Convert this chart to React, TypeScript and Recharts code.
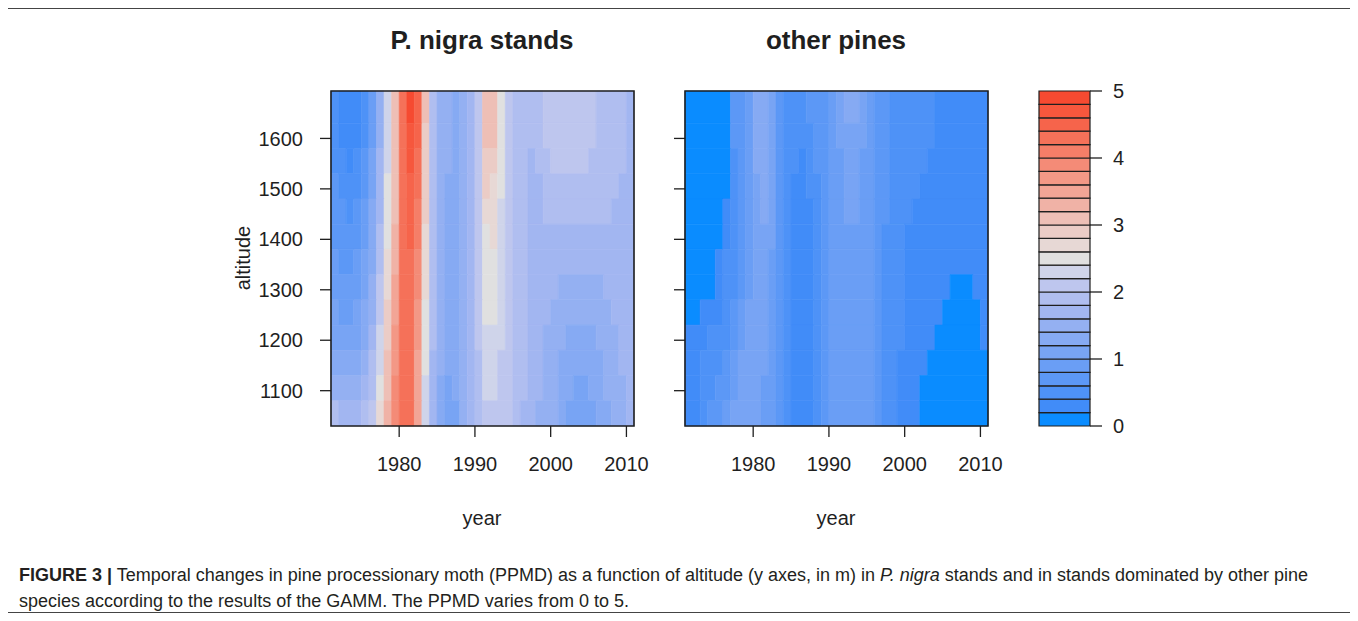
import React from 'react'
import { ScatterChart, Scatter, XAxis, YAxis, ReferenceArea } from 'recharts'

const FONT = '"Liberation Sans", Arial, Helvetica, sans-serif'
const INK = '#1f1f1f'

// column edges (one column per year) and altitude row edges
const YEAR_EDGES = [
  1971, 1972, 1973, 1974, 1975, 1976, 1977, 1978, 1979, 1980, 1981, 1982, 1983, 1984,
  1985, 1986, 1987, 1988, 1989, 1990, 1991, 1992, 1993, 1994, 1995, 1996, 1997, 1998,
  1999, 2000, 2001, 2002, 2003, 2004, 2005, 2006, 2007, 2008, 2009, 2010, 2011,
]
const ALT_EDGES = [1030, 1080, 1130, 1180, 1230, 1280, 1330, 1380, 1430, 1480, 1530, 1580, 1630, 1694]

const YEAR_TICKS = [1980, 1990, 2000, 2010]
const ALT_TICKS = [1100, 1200, 1300, 1400, 1500, 1600]
const PPMD_TICKS = [0, 1, 2, 3, 4, 5]

// 25 contour levels, 0 -> 5 in steps of 0.2
const BAND_COLORS = [
  '#0a8cff', '#418cf8', '#4e92f7', '#5c98f6', '#6a9ef5', '#78a4f4', '#86aaf3', '#94b0f2',
  '#a2b6f1', '#b0bef0', '#bec6ee', '#cfd4ea', '#e0e0e0', '#e7d8d5', '#ebccc6', '#eebfb6',
  '#f0b2a6', '#f2a596', '#f39886', '#f48b77', '#f57e68', '#f57159', '#f6644b', '#f6573d',
  '#f64a31',
]

// P. nigra stands, rows from top (1662 m) to bottom (1055 m), years 1971..2010
const NIGRA = [
  [0.4, 0.3, 0.3, 0.3, 0.4, 0.8, 1.4, 2.2, 3.0, 4.2, 4.8, 4.5, 3.0, 1.9, 1.5, 1.4, 1.35, 1.4, 1.6, 2.1, 3.1, 3.1, 2.5, 2.1, 1.9, 1.9, 1.9, 1.9, 2.0, 2.0, 2.0, 2.1, 2.1, 2.0, 2.0, 1.9, 1.9, 1.8, 1.8, 1.7],
  [0.4, 0.35, 0.3, 0.35, 0.5, 0.9, 1.5, 2.3, 3.0, 4.2, 4.7, 4.4, 2.9, 1.9, 1.5, 1.4, 1.35, 1.4, 1.6, 2.1, 3.0, 3.0, 2.5, 2.1, 1.9, 1.9, 1.8, 1.9, 2.0, 2.0, 2.0, 2.1, 2.1, 2.0, 2.0, 1.9, 1.9, 1.8, 1.8, 1.7],
  [0.5, 0.4, 0.35, 0.4, 0.6, 1.0, 1.6, 2.3, 3.0, 4.2, 4.6, 4.3, 2.9, 1.9, 1.5, 1.4, 1.35, 1.4, 1.6, 2.1, 2.9, 2.8, 2.4, 2.1, 1.9, 1.8, 1.7, 1.8, 1.9, 2.0, 2.0, 2.0, 2.0, 2.0, 1.9, 1.9, 1.8, 1.8, 1.8, 1.7],
  [0.6, 0.5, 0.5, 0.55, 0.7, 1.1, 1.7, 2.4, 3.1, 4.2, 4.5, 4.2, 2.8, 1.9, 1.5, 1.35, 1.3, 1.4, 1.6, 2.1, 2.8, 2.7, 2.4, 2.1, 1.9, 1.8, 1.7, 1.7, 1.8, 1.9, 1.9, 1.9, 1.9, 1.9, 1.9, 1.8, 1.8, 1.8, 1.7, 1.7],
  [0.7, 0.6, 0.55, 0.6, 0.8, 1.2, 1.7, 2.4, 3.1, 4.2, 4.4, 4.1, 2.8, 1.9, 1.5, 1.3, 1.3, 1.4, 1.6, 2.1, 2.6, 2.6, 2.3, 2.1, 1.9, 1.8, 1.7, 1.7, 1.8, 1.8, 1.8, 1.8, 1.8, 1.8, 1.8, 1.8, 1.8, 1.7, 1.7, 1.7],
  [0.75, 0.65, 0.6, 0.7, 0.9, 1.2, 1.8, 2.5, 3.2, 4.2, 4.4, 4.0, 2.7, 1.9, 1.5, 1.3, 1.3, 1.4, 1.6, 2.0, 2.5, 2.6, 2.3, 2.0, 1.9, 1.8, 1.7, 1.7, 1.7, 1.7, 1.7, 1.7, 1.7, 1.7, 1.7, 1.7, 1.7, 1.7, 1.7, 1.7],
  [0.85, 0.75, 0.7, 0.8, 1.0, 1.3, 1.9, 2.6, 3.3, 4.2, 4.3, 3.9, 2.6, 1.8, 1.5, 1.3, 1.3, 1.4, 1.6, 2.0, 2.5, 2.5, 2.3, 2.0, 1.9, 1.8, 1.7, 1.7, 1.7, 1.6, 1.6, 1.6, 1.6, 1.6, 1.6, 1.6, 1.6, 1.7, 1.7, 1.7],
  [0.95, 0.85, 0.8, 0.9, 1.1, 1.4, 2.0, 2.7, 3.4, 4.2, 4.3, 3.8, 2.6, 1.8, 1.5, 1.3, 1.3, 1.4, 1.6, 2.0, 2.4, 2.5, 2.3, 2.0, 1.9, 1.8, 1.7, 1.7, 1.6, 1.6, 1.5, 1.5, 1.5, 1.5, 1.5, 1.5, 1.6, 1.6, 1.7, 1.7],
  [1.0, 0.95, 0.9, 1.0, 1.2, 1.5, 2.1, 2.8, 3.5, 4.2, 4.2, 3.7, 2.5, 1.8, 1.5, 1.3, 1.3, 1.4, 1.6, 2.0, 2.4, 2.4, 2.2, 2.0, 1.9, 1.8, 1.7, 1.6, 1.6, 1.5, 1.5, 1.4, 1.4, 1.4, 1.4, 1.5, 1.5, 1.6, 1.6, 1.7],
  [1.15, 1.05, 1.0, 1.1, 1.3, 1.6, 2.2, 2.9, 3.6, 4.2, 4.2, 3.6, 2.4, 1.8, 1.4, 1.2, 1.3, 1.4, 1.6, 2.0, 2.3, 2.3, 2.2, 2.0, 1.9, 1.8, 1.7, 1.6, 1.5, 1.5, 1.4, 1.3, 1.3, 1.3, 1.3, 1.4, 1.5, 1.5, 1.6, 1.7],
  [1.3, 1.2, 1.2, 1.3, 1.45, 1.8, 2.3, 3.0, 3.7, 4.3, 4.2, 3.5, 2.4, 1.7, 1.4, 1.2, 1.2, 1.4, 1.6, 1.9, 2.2, 2.2, 2.1, 2.0, 1.9, 1.8, 1.7, 1.6, 1.5, 1.4, 1.3, 1.3, 1.2, 1.2, 1.3, 1.3, 1.4, 1.5, 1.6, 1.6],
  [1.5, 1.4, 1.4, 1.5, 1.6, 1.9, 2.5, 3.1, 3.8, 4.3, 4.2, 3.4, 2.3, 1.7, 1.3, 1.1, 1.2, 1.4, 1.6, 1.9, 2.2, 2.2, 2.1, 2.0, 1.9, 1.8, 1.7, 1.6, 1.5, 1.4, 1.3, 1.2, 1.1, 1.1, 1.2, 1.3, 1.4, 1.5, 1.5, 1.6],
  [1.8, 1.7, 1.7, 1.75, 1.85, 2.1, 2.6, 3.3, 3.9, 4.3, 4.2, 3.4, 2.3, 1.7, 1.3, 1.0, 1.1, 1.4, 1.6, 1.9, 2.1, 2.1, 2.1, 2.0, 1.8, 1.7, 1.6, 1.5, 1.5, 1.4, 1.3, 1.1, 1.0, 1.0, 1.1, 1.2, 1.3, 1.4, 1.5, 1.6],
]

// other pines, same layout
const OTHER = [
  [0.1, 0.1, 0.1, 0.1, 0.1, 0.1, 0.6, 0.7, 0.9, 1.2, 1.2, 1.0, 0.7, 0.5, 0.45, 0.5, 0.6, 0.6, 0.7, 0.8, 1.0, 1.2, 1.2, 1.0, 0.9, 0.7, 0.6, 0.5, 0.5, 0.45, 0.45, 0.45, 0.45, 0.3, 0.3, 0.3, 0.3, 0.3, 0.3, 0.3],
  [0.1, 0.1, 0.1, 0.1, 0.1, 0.1, 0.6, 0.7, 0.9, 1.2, 1.2, 1.0, 0.7, 0.5, 0.45, 0.45, 0.55, 0.6, 0.7, 0.8, 1.0, 1.1, 1.1, 1.0, 0.9, 0.7, 0.6, 0.5, 0.5, 0.45, 0.45, 0.45, 0.4, 0.3, 0.3, 0.3, 0.3, 0.3, 0.3, 0.3],
  [0.1, 0.1, 0.1, 0.1, 0.1, 0.1, 0.55, 0.7, 0.9, 1.2, 1.2, 1.0, 0.7, 0.5, 0.4, 0.3, 0.5, 0.6, 0.7, 0.8, 0.95, 1.0, 1.0, 0.95, 0.9, 0.7, 0.6, 0.5, 0.45, 0.45, 0.45, 0.4, 0.35, 0.3, 0.3, 0.3, 0.3, 0.3, 0.3, 0.3],
  [0.1, 0.1, 0.1, 0.1, 0.1, 0.15, 0.55, 0.7, 0.9, 1.1, 1.2, 1.0, 0.7, 0.5, 0.35, 0.3, 0.4, 0.55, 0.7, 0.8, 0.9, 1.0, 1.0, 0.95, 0.9, 0.7, 0.6, 0.5, 0.45, 0.45, 0.4, 0.35, 0.35, 0.3, 0.3, 0.3, 0.3, 0.3, 0.3, 0.3],
  [0.1, 0.1, 0.1, 0.1, 0.1, 0.3, 0.5, 0.7, 0.9, 1.1, 1.2, 1.0, 0.7, 0.45, 0.35, 0.3, 0.35, 0.5, 0.65, 0.8, 0.9, 1.0, 1.0, 0.95, 0.85, 0.7, 0.6, 0.5, 0.45, 0.4, 0.35, 0.35, 0.3, 0.3, 0.3, 0.3, 0.3, 0.3, 0.3, 0.3],
  [0.1, 0.1, 0.1, 0.1, 0.15, 0.35, 0.5, 0.7, 0.9, 1.1, 1.1, 1.0, 0.7, 0.45, 0.35, 0.3, 0.3, 0.45, 0.65, 0.8, 0.9, 0.95, 0.95, 0.9, 0.8, 0.65, 0.55, 0.5, 0.4, 0.35, 0.35, 0.3, 0.3, 0.3, 0.3, 0.3, 0.3, 0.3, 0.3, 0.3],
  [0.1, 0.1, 0.1, 0.1, 0.25, 0.4, 0.5, 0.7, 0.9, 1.1, 1.1, 0.95, 0.65, 0.45, 0.35, 0.3, 0.3, 0.4, 0.6, 0.8, 0.9, 0.95, 0.95, 0.9, 0.8, 0.65, 0.55, 0.45, 0.4, 0.35, 0.3, 0.3, 0.3, 0.3, 0.3, 0.25, 0.25, 0.3, 0.3, 0.3],
  [0.1, 0.1, 0.1, 0.15, 0.3, 0.4, 0.55, 0.75, 0.95, 1.1, 1.1, 0.9, 0.65, 0.45, 0.35, 0.3, 0.3, 0.4, 0.6, 0.8, 0.9, 0.95, 0.95, 0.9, 0.8, 0.65, 0.55, 0.45, 0.4, 0.35, 0.3, 0.3, 0.3, 0.3, 0.25, 0.1, 0.1, 0.1, 0.25, 0.3],
  [0.1, 0.15, 0.25, 0.3, 0.35, 0.45, 0.6, 0.8, 1.0, 1.1, 1.05, 0.9, 0.65, 0.45, 0.35, 0.3, 0.3, 0.4, 0.6, 0.8, 0.9, 0.95, 0.95, 0.9, 0.8, 0.65, 0.55, 0.45, 0.4, 0.35, 0.3, 0.3, 0.3, 0.25, 0.1, 0.1, 0.1, 0.1, 0.1, 0.25],
  [0.2, 0.3, 0.35, 0.4, 0.45, 0.55, 0.7, 0.9, 1.05, 1.1, 1.0, 0.85, 0.6, 0.45, 0.35, 0.3, 0.3, 0.4, 0.6, 0.8, 0.9, 0.95, 0.95, 0.9, 0.8, 0.65, 0.55, 0.45, 0.4, 0.35, 0.3, 0.3, 0.25, 0.1, 0.1, 0.1, 0.1, 0.1, 0.1, 0.25],
  [0.3, 0.35, 0.4, 0.45, 0.55, 0.65, 0.8, 1.0, 1.1, 1.1, 1.0, 0.85, 0.6, 0.45, 0.35, 0.3, 0.3, 0.4, 0.6, 0.8, 0.9, 0.95, 0.95, 0.9, 0.8, 0.6, 0.5, 0.45, 0.35, 0.3, 0.3, 0.3, 0.1, 0.1, 0.1, 0.1, 0.1, 0.1, 0.1, 0.1],
  [0.3, 0.35, 0.45, 0.55, 0.6, 0.75, 0.9, 1.1, 1.1, 1.05, 0.95, 0.8, 0.6, 0.45, 0.35, 0.3, 0.3, 0.4, 0.6, 0.8, 0.9, 0.95, 0.95, 0.9, 0.8, 0.6, 0.5, 0.4, 0.35, 0.3, 0.3, 0.1, 0.1, 0.1, 0.1, 0.1, 0.1, 0.1, 0.1, 0.1],
  [0.3, 0.35, 0.45, 0.6, 0.65, 0.8, 1.0, 1.1, 1.1, 1.0, 0.95, 0.8, 0.6, 0.45, 0.35, 0.3, 0.3, 0.4, 0.6, 0.8, 0.9, 0.95, 0.95, 0.9, 0.8, 0.6, 0.5, 0.4, 0.35, 0.3, 0.3, 0.1, 0.1, 0.1, 0.1, 0.1, 0.1, 0.1, 0.1, 0.1],
]

const bandOf = (v: number) => Math.min(24, Math.max(0, Math.floor(v * 5 + 1e-6)))

type Cell = { x1: number; x2: number; y1: number; y2: number; fill: string }

// merge neighbouring years that fall in the same contour level
function buildCells(rows: number[][]): Cell[] {
  const cells: Cell[] = []
  rows.forEach((row, r) => {
    const k = ALT_EDGES.length - 2 - r
    let start = 0
    for (let i = 1; i <= row.length; i++) {
      if (i === row.length || bandOf(row[i]) !== bandOf(row[start])) {
        cells.push({
          x1: YEAR_EDGES[start],
          x2: YEAR_EDGES[i],
          y1: ALT_EDGES[k],
          y2: ALT_EDGES[k + 1],
          fill: BAND_COLORS[bandOf(row[start])],
        })
        start = i
      }
    }
  })
  return cells
}

const tickStyle = { fill: INK, fontSize: 20, fontFamily: FONT }
const tickLine = { stroke: INK, strokeWidth: 1.3 }

function Panel({ rows, labels }: { rows: number[][]; labels: boolean }) {
  const cells = buildCells(rows)
  const corners = [
    { x: YEAR_EDGES[0], y: ALT_EDGES[0] },
    { x: YEAR_EDGES[YEAR_EDGES.length - 1], y: ALT_EDGES[ALT_EDGES.length - 1] },
  ]
  return (
    <ScatterChart width={474} height={396} margin={{ top: 11, right: 40, bottom: 0, left: 31 }}>
      <XAxis
        type="number"
        dataKey="x"
        domain={[1971, 2011]}
        ticks={YEAR_TICKS}
        allowDataOverflow
        axisLine={false}
        tickSize={11}
        tickMargin={20}
        tickLine={tickLine}
        tick={tickStyle}
        height={50}
      />
      <YAxis
        type="number"
        dataKey="y"
        domain={[1030, 1694]}
        ticks={ALT_TICKS}
        allowDataOverflow
        axisLine={false}
        width={100}
        tickSize={11}
        tickMargin={17}
        tickLine={tickLine}
        tick={tickStyle}
        tickFormatter={labels ? undefined : () => ''}
      />
      {cells.map((c, i) => (
        <ReferenceArea
          key={i}
          x1={c.x1}
          x2={c.x2}
          y1={c.y1}
          y2={c.y2}
          fill={c.fill}
          fillOpacity={1}
          stroke={c.fill}
          strokeWidth={0.6}
        />
      ))}
      <ReferenceArea x1={1971} x2={2011} y1={1030} y2={1694} fill="none" stroke={INK} strokeWidth={1.6} />
      <Scatter data={corners} isAnimationActive={false} shape={() => <g />} />
    </ScatterChart>
  )
}

function ColorKey() {
  const ends = [{ x: 0, y: 0 }, { x: 1, y: 5 }]
  return (
    <ScatterChart width={121} height={370} margin={{ top: 11, right: 0, bottom: 24, left: 10 }}>
      <XAxis type="number" dataKey="x" domain={[0, 1]} hide />
      <YAxis
        type="number"
        dataKey="y"
        orientation="right"
        domain={[0, 5]}
        ticks={PPMD_TICKS}
        axisLine={false}
        width={60}
        tickSize={12}
        tickMargin={11}
        tickLine={tickLine}
        tick={{ ...tickStyle, textAnchor: 'start' }}
        interval={0}
      />
      {BAND_COLORS.map((c, i) => (
        <ReferenceArea
          key={i}
          x1={0}
          x2={1}
          y1={i * 0.2}
          y2={(i + 1) * 0.2}
          fill={c}
          fillOpacity={1}
          stroke={INK}
          strokeWidth={1.2}
        />
      ))}
      <Scatter data={ends} isAnimationActive={false} shape={() => <g />} />
    </ScatterChart>
  )
}

// positions below are page coordinates; the frame starts at (8, 8)
const at = (x: number, y: number): React.CSSProperties => ({ position: 'absolute', left: x - 8, top: y - 8 })
const line = (x: number, y: number, w: number, h: number, c: string): React.CSSProperties => ({
  ...at(x, y),
  width: w,
  height: h,
  background: c,
})

export default function App() {
  return (
    <div style={{ position: 'relative', width: 1342, height: 605, fontFamily: FONT, color: INK }}>
      <div style={line(7, 8, 1349, 1, '#444')} />
      <div style={line(6, 8, 2, 605, '#707070')} />
      <div style={line(1354, 8, 2, 605, '#707070')} />
      <div style={line(7, 612, 1349, 1, '#444')} />

      <div style={{ ...at(282, 27), width: 400, textAlign: 'center', fontWeight: 700, fontSize: 26, lineHeight: '26px' }}>
        P. nigra stands
      </div>
      <div style={{ ...at(636, 27), width: 400, textAlign: 'center', fontWeight: 700, fontSize: 26, lineHeight: '26px' }}>
        other pines
      </div>

      <div style={at(200, 80)}>
        <Panel rows={NIGRA} labels />
      </div>
      <div style={at(554, 80)}>
        <Panel rows={OTHER} labels={false} />
      </div>
      <div style={at(1029, 80)}>
        <ColorKey />
      </div>

      <div
        style={{
          ...at(183, 248),
          width: 120,
          textAlign: 'center',
          fontSize: 20,
          lineHeight: '20px',
          transform: 'rotate(-90deg)',
        }}
      >
        altitude
      </div>
      <div style={{ ...at(432, 508), width: 100, textAlign: 'center', fontSize: 20, lineHeight: '20px' }}>year</div>
      <div style={{ ...at(786, 508), width: 100, textAlign: 'center', fontSize: 20, lineHeight: '20px' }}>year</div>

      <div
        style={{
          ...at(19, 562),
          fontFamily: '"Liberation Sans", Arial, sans-serif',
          fontSize: 18,
          lineHeight: '26px',
          color: '#231f20',
          whiteSpace: 'nowrap',
        }}
      >
        <div>
          <b>FIGURE 3 |</b> Temporal changes in pine processionary moth (PPMD) as a function of altitude (y axes, in m) in{' '}
          <i>P. nigra</i> stands and in stands dominated by other pine
        </div>
        <div>species according to the results of the GAMM. The PPMD varies from 0 to 5.</div>
      </div>
    </div>
  )
}
